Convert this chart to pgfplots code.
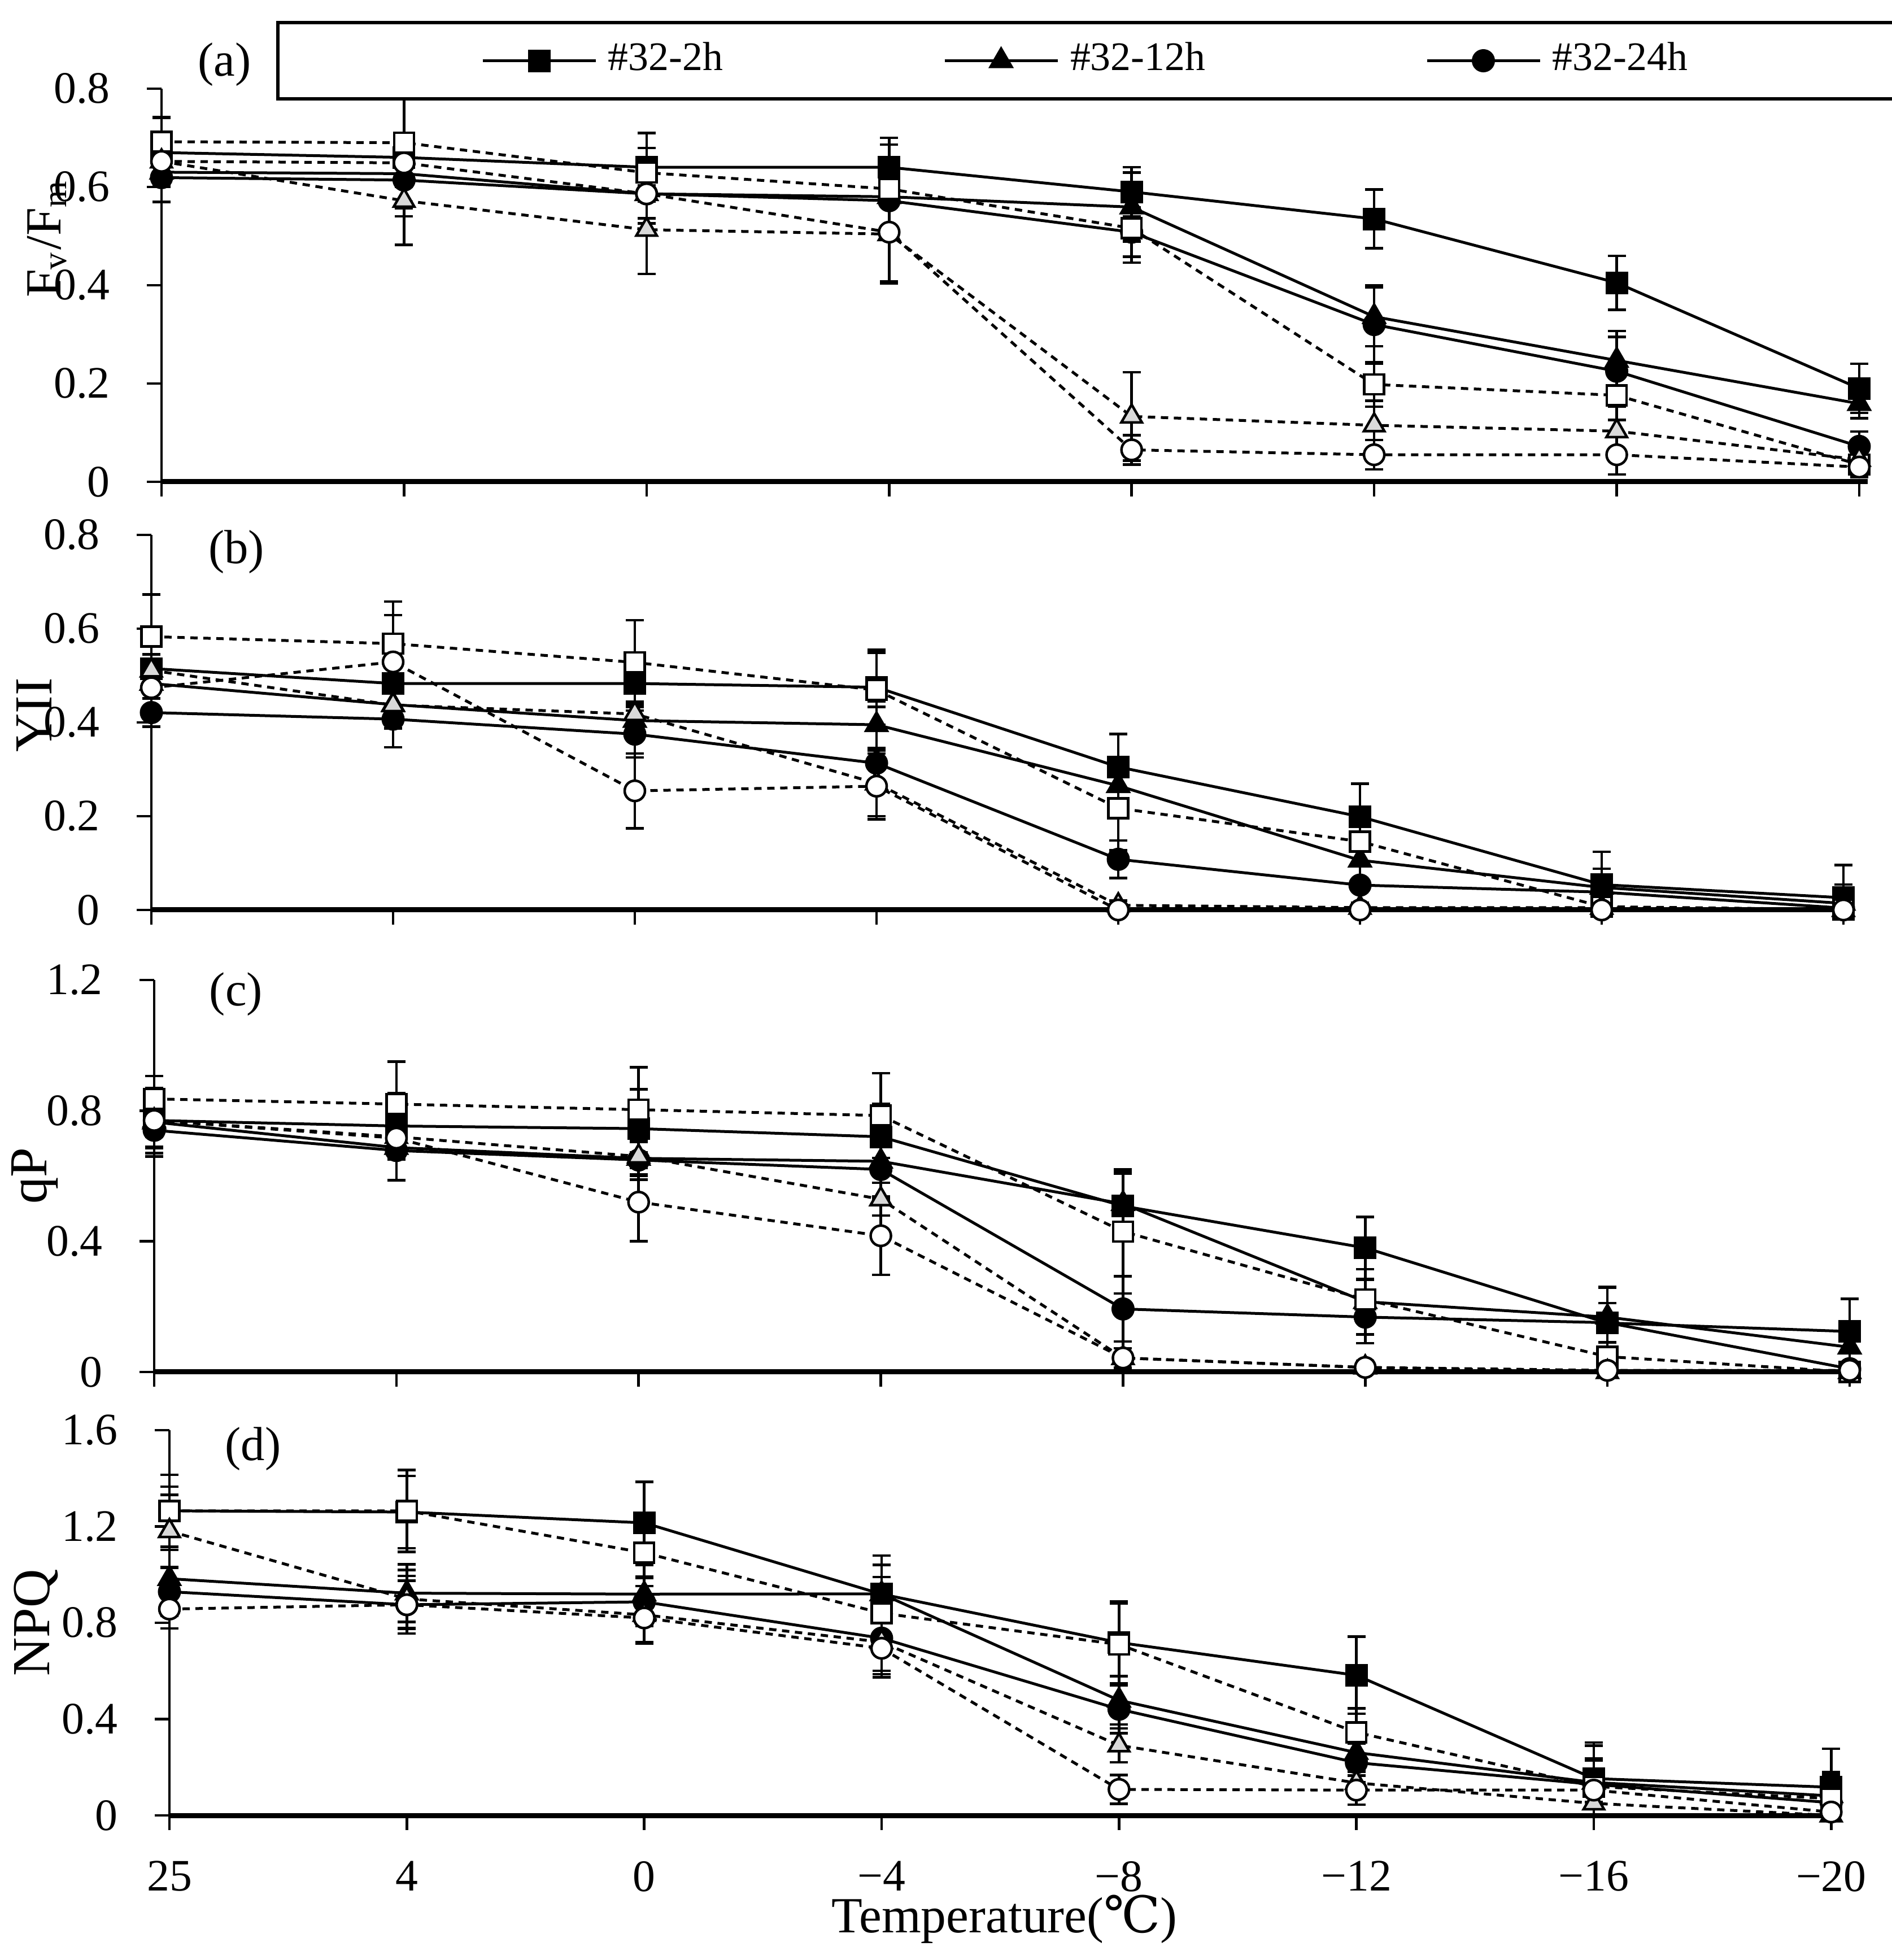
\documentclass[border=0pt]{standalone}
\usepackage{fontspec}
\setmainfont{Liberation Serif}
\newfontfamily\symfont{DejaVu Serif}
\usepackage{pgfplots}
\pgfplotsset{compat=1.18}
\usepackage{pgfplotstable}

% columns: x, 2h, e, 12h, e, 24h, e, open-square, e, open-triangle, e, open-circle, e
\pgfplotstableread{
x  s2    e2    s12   e12   s24   e24   o2    f2    o12   f12   o24   f24
0  0.670 0.07  0.630 0.06  0.619 0.05  0.692 0.05  0.652 0.05  0.652 0.05
1  0.660 0.12  0.627 0.07  0.614 0.05  0.690 0.09  0.572 0.09  0.649 0.04
2  0.640 0.07  0.586 0.06  0.586 0.05  0.629 0.05  0.513 0.09  0.586 0.05
3  0.640 0.06  0.580 0.08  0.572 0.07  0.596 0.09  0.504 0.10  0.508 0.10
4  0.590 0.05  0.559 0.07  0.508 0.05  0.516 0.07  0.133 0.09  0.065 0.03
5  0.535 0.06  0.336 0.06  0.320 0.08  0.198 0.045 0.115 0.05  0.055 0.03
6  0.405 0.055 0.247 0.06  0.225 0.07  0.176 0.05  0.103 0.05  0.055 0.04
7  0.190 0.05  0.159 0.03  0.072 0.03  0.035 0.02  0.045 0.02  0.030 0.02
}\tabA
\pgfplotstableread{
x  s2    e2    s12   e12   s24   e24   o2    f2    o12   f12   o24   f24
0  0.515 0.03  0.483 0.05  0.421 0.03  0.583 0.09  0.511 0.09  0.474 0.05
1  0.483 0.06  0.438 0.05  0.407 0.06  0.568 0.09  0.437 0.05  0.529 0.10
2  0.483 0.05  0.404 0.04  0.375 0.05  0.528 0.09  0.418 0.05  0.254 0.08
3  0.475 0.08  0.395 0.05  0.313 0.12  0.469 0.08  0.270 0.07  0.264 0.07
4  0.305 0.07  0.265 0.04  0.108 0.04  0.217 0.09  0.010 0.01  0.000 0.00
5  0.199 0.07  0.106 0.04  0.053 0.04  0.146 0.05  0.005 0.01  0.000 0.00
6  0.054 0.07  0.048 0.04  0.038 0.03  0.007 0.03  0.005 0.01  0.000 0.00
7  0.026 0.07  0.014 0.04  0.004 0.02  0.001 0.01  0.000 0.005 0.000 0.00
}\tabB
\pgfplotstableread{
x  s2    e2    s12   e12   s24   e24   o2    f2    o12   f12   o24   f24
0  0.770 0.10  0.765 0.08  0.740 0.08  0.836 0.07  0.770 0.08  0.770 0.05
1  0.753 0.10  0.687 0.10  0.678 0.09  0.820 0.13  0.720 0.07  0.716 0.06
2  0.745 0.12  0.654 0.05  0.649 0.06  0.803 0.13  0.660 0.06  0.520 0.12
3  0.720 0.10  0.645 0.12  0.620 0.09  0.785 0.13  0.529 0.05  0.417 0.12
4  0.508 0.10  0.515 0.10  0.193 0.10  0.430 0.19  0.043 0.03  0.043 0.05
5  0.380 0.095 0.215 0.10  0.168 0.08  0.222 0.06  0.014 0.01  0.014 0.02
6  0.150 0.11  0.168 0.09  0.151 0.06  0.047 0.03  0.000 0.005 0.005 0.01
7  0.124 0.10  0.076 0.05  0.010 0.01  0.000 0.01  0.000 0.00  0.005 0.01
}\tabC
\pgfplotstableread{
x  s2    e2    s12   e12   s24   e24   o2    f2    o12   f12   o24   f24
0  1.265 0.15  0.983 0.12  0.929 0.10  1.265 0.10  1.181 0.15  0.857 0.08
1  1.260 0.15  0.923 0.12  0.875 0.12  1.265 0.17  0.899 0.12  0.875 0.10
2  1.215 0.17  0.919 0.12  0.887 0.10  1.091 0.10  0.833 0.12  0.820 0.10
3  0.919 0.16  0.920 0.12  0.736 0.15  0.840 0.15  0.720 0.12  0.694 0.12
4  0.718 0.17  0.478 0.10  0.441 0.10  0.710 0.17  0.291 0.07  0.108 0.06
5  0.582 0.16  0.261 0.08  0.219 0.08  0.345 0.10  0.135 0.05  0.105 0.06
6  0.153 0.15  0.137 0.10  0.129 0.10  0.120 0.17  0.050 0.05  0.105 0.05
7  0.117 0.16  0.081 0.10  0.053 0.08  0.070 0.10  0.000 0.03  0.014 0.02
}\tabD

\pgfplotsset{
  panel/.style={
    scale only axis,
    xmin=0, xmax=7.035, ymin=0,
    axis x line*=bottom, axis y line*=left,
    x axis line style={line width=0.9bp,-},
    y axis line style={line width=0.45bp,-},
    tick align=outside,
    major tick length=2.6bp,
    tick style={line width=0.45bp,black},
    xtick={0,1,2,3,4,5,6,7},
    xticklabels={},
    ticklabel style={font=\fontsize{8}{9}\selectfont},
    yticklabel style={xshift=-3bp},
    xticklabel style={yshift=-2.0bp},
    /pgf/number format/assume math mode=true,
    /pgf/number format/fixed,
    label style={font=\fontsize{9.5}{11}\selectfont},
    clip=false,
  },
  ebar/.style={error bars/y dir=both, error bars/y explicit,
    error bars/error bar style={line width=0.45bp, solid, black},
    error bars/error mark options={rotate=90, mark size=1.6bp, line width=0.45bp, solid, black}},
  fs/.style={black, line width=0.5bp, mark=square*, mark size=1.75bp, mark options={solid, fill=black}, ebar},
  ft/.style={black, line width=0.5bp, mark=triangle*, mark size=2.1bp, mark options={solid, fill=black}, ebar},
  fc/.style={black, line width=0.5bp, mark=*, mark size=1.8bp, mark options={solid, fill=black}, ebar},
  os/.style={black, line width=0.5bp, dash pattern=on 1.3bp off 1bp, mark=square*, mark size=1.75bp, mark options={solid, fill=white, line width=0.45bp}, ebar},
  ot/.style={black, line width=0.5bp, dash pattern=on 1.3bp off 1bp, mark=triangle*, mark size=2.1bp, mark options={solid, fill=gray!30, line width=0.45bp}, ebar},
  oc/.style={black, line width=0.5bp, dash pattern=on 1.3bp off 1bp, mark=*, mark size=1.8bp, mark options={solid, fill=white, line width=0.45bp}, ebar},
}

% error bars are not drawn below the x axis
\newcommand{\allplots}[1]{%
  \addplot[fs] table[x=x, y=s2, y error plus=e2, y error minus expr={min(\thisrow{e2},\thisrow{s2})}] {#1};
  \addplot[ft] table[x=x, y=s12, y error plus=e12, y error minus expr={min(\thisrow{e12},\thisrow{s12})}] {#1};
  \addplot[fc] table[x=x, y=s24, y error plus=e24, y error minus expr={min(\thisrow{e24},\thisrow{s24})}] {#1};
  \addplot[forget plot, os] table[x=x, y=o2, y error plus=f2, y error minus expr={min(\thisrow{f2},\thisrow{o2})}] {#1};
  \addplot[forget plot, ot] table[x=x, y=o12, y error plus=f12, y error minus expr={min(\thisrow{f12},\thisrow{o12})}] {#1};
  \addplot[forget plot, oc] table[x=x, y=o24, y error plus=f24, y error minus expr={min(\thisrow{f24},\thisrow{o24})}] {#1};
}

\begin{document}
\begin{tikzpicture}
\path[use as bounding box] (0,0) rectangle (335bp,347bp);

% (a)
\begin{axis}[panel,
  at={(28.6bp,261.7bp)}, anchor=south west,
  width=302.1bp, height=69.6bp,
  ymax=0.8, ytick={0,0.2,0.4,0.6,0.8},
  ylabel={F\textsubscript{v}/F\textsubscript{m}},
  ylabel style={at={(axis description cs:-0.067,0.62)}, anchor=center, font=\fontsize{9}{10}\selectfont},
  legend columns=3,
  legend style={at={(rel axis cs:0.0672,1.172)}, anchor=north west,
    draw=black, line width=0.6bp, inner xsep=36bp, inner ysep=1.5bp,
    font=\fontsize{7.2}{8}\selectfont,
    /tikz/every even column/.append style={column sep=37bp}},
  legend image code/.code={\draw[mark repeat=2, mark phase=2, line width=0.5bp]
    plot coordinates {(0bp,0bp) (10bp,0bp) (20bp,0bp)};},
]
\allplots{\tabA}
\legend{\#32-2h, \#32-12h, \#32-24h}
\node[font=\fontsize{8.5}{10}\selectfont] at (rel axis cs:0.037,1.062) {(a)};
\end{axis}

% (b)
\begin{axis}[panel,
  at={(26.8bp,185.9bp)}, anchor=south west,
  width=301.1bp, height=66.4bp,
  ymax=0.8, ytick={0,0.2,0.4,0.6,0.8},
  ylabel={YII},
  ylabel style={at={(axis description cs:-0.069,0.52)}, anchor=center},
]
\allplots{\tabB}
\node[font=\fontsize{8.5}{10}\selectfont] at (rel axis cs:0.05,0.955) {(b)};
\end{axis}

% (c)
\begin{axis}[panel,
  at={(27.3bp,104.1bp)}, anchor=south west,
  width=301.7bp, height=69.4bp,
  ymax=1.2, ytick={0,0.4,0.8,1.2},
  ylabel={qP},
  ylabel style={at={(axis description cs:-0.070,0.5)}, anchor=center},
]
\allplots{\tabC}
\node[font=\fontsize{8.5}{10}\selectfont] at (rel axis cs:0.048,0.964) {(c)};
\end{axis}

% (d)
\begin{axis}[panel,
  at={(30.0bp,25.6bp)}, anchor=south west,
  width=295.7bp, height=68.2bp,
  ymax=1.6, ytick={0,0.4,0.8,1.2,1.6},
  xticklabels={25,4,0,−4,−8,−12,−16,−20},
  ylabel={NPQ},
  ylabel style={at={(axis description cs:-0.080,0.5)}, anchor=center},
  xlabel={Temperature({\symfont ℃})},
  xlabel style={at={(axis description cs:0.5,0)}, anchor=center, yshift=-18.4bp, font=\fontsize{9}{10}\selectfont},
]
\allplots{\tabD}
\node[font=\fontsize{8.5}{10}\selectfont] at (rel axis cs:0.05,0.952) {(d)};
\end{axis}
\end{tikzpicture}
\end{document}
